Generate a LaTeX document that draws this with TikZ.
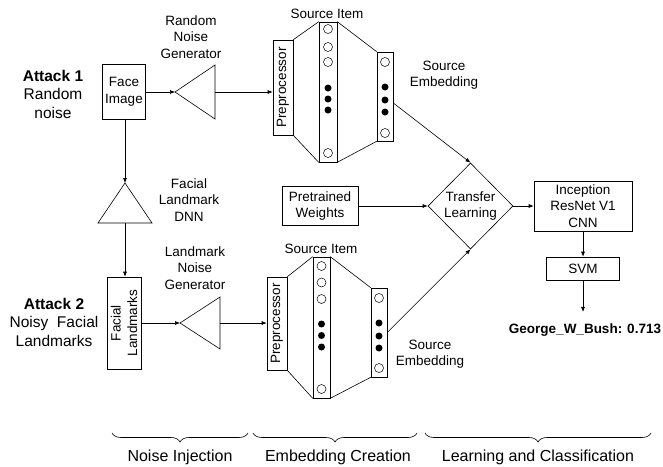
\documentclass[tikz,border=0pt]{standalone}
\usepackage{fontspec}
\setmainfont{Liberation Sans}
\usetikzlibrary{arrows.meta,shapes.geometric,decorations.pathreplacing}

\begin{document}
\begin{tikzpicture}[x=1pt,y=-1pt,line width=0.6pt,
		every node/.style={font=\fontsize{13.5}{16.5}\selectfont},
		blk/.style={draw,inner sep=0pt,align=center},
		txt/.style={align=center,inner sep=0pt},
		attack/.style={align=center,inner sep=0pt,font=\fontsize{15.5}{18.5}\selectfont},
		phase/.style={inner sep=0pt,anchor=base,font=\fontsize{16}{19}\selectfont},
		arr/.style={-{Latex[length=5pt,width=4pt]}},
		unit/.style={draw,fill=white,circle,inner sep=0pt,minimum size=9pt,line width=0.5pt},
		dot/.style={fill=black,circle,inner sep=0pt,minimum size=7pt},
		grp/.style={decorate,decoration={brace,amplitude=9pt}}]
				\useasboundingbox (0,0) rectangle (663,466);
				% attack labels
				\node[attack] (att1) at (53,94) {\textbf{Attack 1}\\Random\\noise};
				\node[attack] (att2) at (54,322) {\textbf{Attack 2}\\Noisy\ \ Facial\\Landmarks};
				% noise injection
				\node[blk,minimum width=43pt,minimum height=55pt] (face) at (124,92) {Face\\Image};
				\draw (175,92) coordinate (rng-in) -- (215,65) -- (215,119) -- cycle;
				\coordinate (rng-out) at (215,92);
				\node[txt] (rng-lbl) at (191,37) {Random\\Noise\\Generator};
				\draw (125,183) coordinate (dnn-in) -- (152,223) -- (98,223) -- cycle;
				\coordinate (dnn-out) at (125,223);
				\node[txt] (dnn-lbl) at (189,200) {Facial\\Landmark\\DNN};
				\node[blk,minimum width=34pt,minimum height=92pt] (flm) at (124,323) {};
				\node[txt,rotate=90] at (flm) {Facial\\Landmarks};
				\draw (180,323) coordinate (lng-in) -- (220,297) -- (220,349) -- cycle;
				\coordinate (lng-out) at (220,323);
				\node[txt] (lng-lbl) at (195,268) {Landmark\\Noise\\Generator};
				% embedding, upper branch
				\node[blk,minimum width=20pt,minimum height=95pt] (prep1) at (283,87.5) {};
				\node[txt,rotate=90] at (prep1) {Preprocessor};
				\node[blk,minimum width=18pt,minimum height=140pt] (item1) at (328,92) {};
				\node[blk,minimum width=16pt,minimum height=89pt] (emb1) at (385,96.5) {};
				\draw (prep1.north east) -- (item1.north west) (prep1.south east) -- (item1.south west);
				\draw (item1.north east) -- (emb1.north west) (item1.south east) -- (emb1.south west);
				\foreach \y in {29,47,62,153} \node[unit] at (328,\y) {};
				\foreach \y in {88,99,110} \node[dot] at (328,\y) {};
				\foreach \y in {62,133} \node[unit] at (385,\y) {};
				\foreach \y in {87,100,112} \node[dot] at (385,\y) {};
				\node[txt] (item1-lbl) at (327,14) {Source Item};
				\node[txt] (emb1-lbl) at (444,75) {Source\\Embedding};
				% embedding, lower branch
				\node[blk,minimum width=20pt,minimum height=93pt] (prep2) at (277,323.5) {};
				\node[txt,rotate=90] at (prep2) {Preprocessor};
				\node[blk,minimum width=17pt,minimum height=141pt] (item2) at (321.5,327.5) {};
				\node[blk,minimum width=16pt,minimum height=89pt] (emb2) at (379,332.5) {};
				\draw (prep2.north east) -- (item2.north west) (prep2.south east) -- (item2.south west);
				\draw (item2.north east) -- (emb2.north west) (item2.south east) -- (emb2.south west);
				\foreach \y in {266,282.5,299,389} \node[unit] at (321.5,\y) {};
				\foreach \y in {324,335.5,347} \node[dot] at (321.5,\y) {};
				\foreach \y in {298,368} \node[unit] at (379,\y) {};
				\foreach \y in {323,336,348} \node[dot] at (379,\y) {};
				\node[txt] (item2-lbl) at (321,249) {Source Item};
				\node[txt] (emb2-lbl) at (430,354) {Source\\Embedding};
				% learning and classification
				\node[blk,minimum width=76pt,minimum height=39pt] (pw) at (320,206) {Pretrained\\Weights};
				\node[draw,diamond,align=center,inner sep=0pt,minimum width=85pt,minimum height=86pt] (tl) at (470.5,206) {Transfer\\Learning};
				\node[blk,minimum width=98pt,minimum height=50pt] (inc) at (583,206) {Inception\\ResNet V1\\CNN};
				\node[blk,minimum width=73pt,minimum height=23pt] (svm) at (583,268.5) {SVM};
				\node[anchor=base,inner xsep=0pt,inner ysep=11pt,font=\bfseries\fontsize{13.5}{16.5}\selectfont] (res) at (585,333) {George\_W\_Bush: 0.713};
				% connectors
				\draw[arr] (face.east) -- (rng-in);
				\draw[arr] (rng-out) -- (rng-out -| prep1.west);
				\draw[arr] (face.south -| dnn-in) -- (dnn-in);
				\draw[arr] (dnn-out) -- (dnn-out |- flm.north);
				\draw[arr] (flm.east |- lng-in) -- (lng-in);
				\draw[arr] (lng-out) -- (lng-out -| prep2.west);
				\draw[arr] ([yshift=-6.5pt]emb1.east) -- (tl.north);
				\draw[arr] (emb2.east) -- (tl.south);
				\draw[arr] (pw.east) -- (tl.west);
				\draw[arr] (tl.east) -- (inc.west);
				\draw[arr] (inc.south) -- (svm.north);
				\draw[arr] (svm.south) -- (svm.south |- res.north);
				% stages
				\draw[grp] (248,433) -- (112,433);
				\draw[grp] (417,433) -- (253,433);
				\draw[grp] (651,433) -- (425,433);
				\node[phase] (stage1) at (180,461) {Noise Injection};
				\node[phase] (stage2) at (338,461) {Embedding Creation};
				\node[phase] (stage3) at (538,461) {Learning and Classification};
\end{tikzpicture}
\end{document}
